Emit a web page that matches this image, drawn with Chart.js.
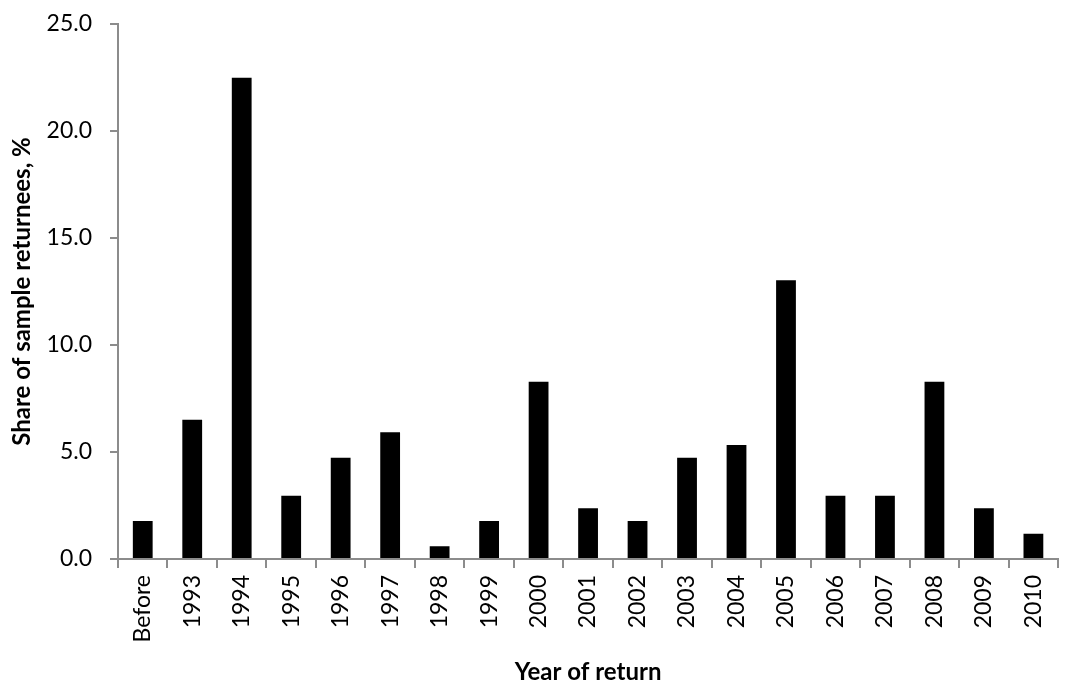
<!DOCTYPE html>
<html>
<head>
<meta charset="utf-8">
<script src="https://cdn.jsdelivr.net/npm/chart.js@4/dist/chart.umd.min.js"></script>
<style>
  html, body { margin: 0; padding: 0; background: #fff; }
  #wrap { width: 1068px; height: 687px; }
</style>
</head>
<body>
<div id="wrap"><canvas id="chart" width="1068" height="687"></canvas></div>
<script>
const years = ['Before', '1993', '1994', '1995', '1996', '1997', '1998', '1999', '2000', '2001',
  '2002', '2003', '2004', '2005', '2006', '2007', '2008', '2009', '2010'];
const shares = [1.78, 6.51, 22.49, 2.96, 4.73, 5.92, 0.59, 1.78, 8.28, 2.37,
  1.78, 4.73, 5.33, 13.02, 2.96, 2.96, 8.28, 2.37, 1.18];
const yTicks = [0, 5, 10, 15, 20, 25];

const FONT = 'Lato, "Open Sans", sans-serif';
const axisGrey = '#8c8c8c';

new Chart(document.getElementById('chart'), {
  type: 'bar',
  data: {
    labels: years,
    datasets: [{
      label: 'Share of sample returnees, %',
      data: shares,
      backgroundColor: '#000',
      borderWidth: 0,
      categoryPercentage: 1,
      barPercentage: 0.4,
    }],
  },
  options: {
    responsive: false,
    animation: false,
    layout: { padding: { top: 24, right: 0, left: 0, bottom: 0 } },
    plugins: { legend: { display: false }, tooltip: { enabled: false } },
    scales: {
      x: {
        offset: true,
        grid: { display: true, offset: true, drawOnChartArea: false, color: axisGrey, tickLength: 9, lineWidth: 2 },
        border: { color: axisGrey, width: 2 },
        ticks: { color: '#000', font: { family: FONT, size: 23 }, maxRotation: 90, minRotation: 90, padding: 7 },
        title: { display: true, text: 'Year of return', color: '#000', font: { family: FONT, size: 24, weight: 'bold' }, padding: { top: 0, bottom: 0 } },
        afterFit: (s) => { s.height = 687 - 559; },
      },
      y: {
        min: 0, max: 25,
        afterBuildTicks: (s) => { s.ticks = yTicks.map((v) => ({ value: v })); },
        grid: { display: true, drawOnChartArea: false, color: axisGrey, tickLength: 8, lineWidth: 2 },
        border: { color: axisGrey, width: 2 },
        ticks: { color: '#000', font: { family: FONT, size: 23 }, padding: 18, callback: (v) => v.toFixed(1) },
        title: { display: true, text: 'Share of sample returnees, %', color: '#000', font: { family: FONT, size: 24, weight: 'bold' }, padding: { top: 8, bottom: 0 } },
        afterFit: (s) => { s.width = 118; s.paddingTop = 0; s.paddingBottom = 0; },
      },
    },
  },
});
</script>
</body>
</html>
